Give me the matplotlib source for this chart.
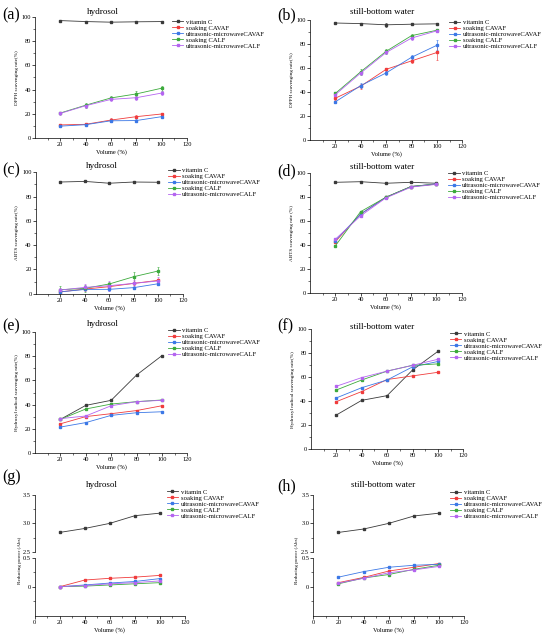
import matplotlib
matplotlib.use("Agg")
import matplotlib.pyplot as plt
from matplotlib.ticker import MultipleLocator, FixedLocator
from matplotlib.lines import Line2D

plt.rcParams['font.family'] = ['Liberation Serif', 'DejaVu Serif']

# ---------------- data ----------------
volume = [20, 40, 60, 80, 100]
series_names = ["vitamin C", "soaking CAVAF", "ultrasonic-microwaveCAVAF",
                "soaking CALF", "ultrasonic-microwaveCALF"]
series_colors = ["#3a3a3a", "#f03c3c", "#3c78e6", "#3caa3c", "#b464f0"]

# order: vitamin C, soaking CAVAF, US-MW CAVAF, soaking CALF, US-MW CALF
dpph_hydrosol = [[96.8, 96.0, 95.5, 95.8, 96.0],
                 [11.0, 11.5, 15.0, 17.8, 20.0],
                 [10.0, 11.2, 14.4, 14.6, 17.8],
                 [20.8, 27.2, 33.2, 36.5, 41.2],
                 [20.5, 26.8, 32.0, 33.4, 37.2]]
dpph_hydrosol_err = [[0.5, 0.5, 0.5, 0.5, 0.5],
                     [0.8, 0.6, 1.5, 1.0, 1.0],
                     [0.8, 0.6, 1.2, 1.0, 1.0],
                     [1.0, 2.0, 1.5, 2.0, 2.0],
                     [1.0, 1.5, 1.5, 1.5, 1.5]]

dpph_still = [[97.5, 97.0, 96.0, 96.5, 96.8],
              [35.0, 45.0, 59.0, 66.0, 73.0],
              [32.0, 45.5, 56.0, 69.0, 79.0],
              [39.0, 57.0, 74.0, 87.0, 91.5],
              [38.0, 56.0, 73.0, 85.0, 91.0]]
dpph_still_err = [[0.5, 0.5, 1.5, 0.5, 0.5],
                  [1.5, 2.0, 1.5, 2.0, 6.0],
                  [1.0, 2.0, 1.5, 1.5, 4.0],
                  [1.5, 2.5, 2.0, 1.5, 1.0],
                  [1.0, 2.0, 1.5, 1.5, 1.0]]

abts_hydrosol = [[92.0, 92.5, 91.0, 92.0, 91.8],
                 [1.5, 3.8, 5.8, 8.5, 11.0],
                 [1.5, 3.5, 3.6, 5.0, 8.2],
                 [3.3, 4.4, 8.0, 14.0, 18.7],
                 [3.0, 5.2, 6.6, 8.5, 10.5]]
abts_hydrosol_err = [[0.5, 0.5, 0.5, 0.5, 0.5],
                     [0.5, 1.0, 1.5, 1.5, 1.0],
                     [0.5, 0.5, 1.0, 1.0, 1.0],
                     [3.0, 3.0, 2.0, 4.0, 3.0],
                     [2.0, 3.0, 4.0, 3.0, 3.0]]

abts_still = [[92.5, 93.0, 91.7, 92.5, 91.7],
              [43.0, 66.0, 80.0, 89.0, 91.0],
              [44.0, 66.0, 80.0, 89.0, 91.2],
              [39.5, 68.0, 80.0, 89.0, 91.0],
              [45.0, 64.5, 79.5, 88.5, 90.8]]
abts_still_err = [[0.5, 0.5, 0.5, 0.5, 0.5],
                  [1.0, 1.0, 1.0, 0.8, 0.8],
                  [1.0, 1.0, 1.0, 0.8, 0.8],
                  [1.0, 1.0, 1.0, 0.8, 0.8],
                  [1.0, 1.0, 1.0, 0.8, 0.8]]

oh_hydrosol = [[27.7, 39.3, 43.5, 64.5, 80.6],
               [24.0, 30.0, 32.4, 35.0, 39.0],
               [21.3, 25.0, 31.0, 33.2, 34.0],
               [27.7, 36.3, 40.4, 42.4, 43.8],
               [28.3, 30.5, 39.0, 42.4, 43.5]]
oh_hydrosol_err = [[0.5, 0.5, 0.5, 1.0, 0.5],
                   [0.5, 0.8, 0.8, 0.8, 0.5],
                   [0.5, 0.5, 0.8, 0.5, 0.5],
                   [0.5, 0.5, 0.5, 0.5, 0.5],
                   [0.5, 0.8, 0.5, 0.5, 0.5]]

oh_still = [[28.5, 40.7, 44.6, 65.9, 81.4],
            [39.6, 48.0, 58.0, 61.0, 64.0],
            [42.7, 51.2, 57.6, 68.5, 73.0],
            [49.3, 57.6, 65.0, 69.8, 71.0],
            [52.4, 59.6, 65.0, 69.8, 74.8]]
oh_still_err = [[0.5, 0.5, 0.5, 1.0, 0.5],
                [0.5, 0.5, 0.8, 0.5, 0.5],
                [0.5, 0.5, 0.5, 0.5, 0.5],
                [0.5, 0.8, 0.5, 0.5, 0.5],
                [0.5, 0.8, 0.5, 0.5, 0.8]]

rp_hydrosol = [[2.84, 2.91, 3.00, 3.135, 3.18],
               [0.00, 0.115, 0.145, 0.165, 0.195],
               [0.00, 0.03, 0.063, 0.09, 0.14],
               [0.00, 0.01, 0.03, 0.05, 0.07],
               [0.00, 0.02, 0.05, 0.07, 0.10]]
rp_hydrosol_err = [[0.01] * 5, [0.01] * 5, [0.01] * 5, [0.01] * 5, [0.01] * 5]

rp_still = [[2.84, 2.90, 3.00, 3.13, 3.18],
            [0.07, 0.16, 0.27, 0.335, 0.40],
            [0.165, 0.26, 0.335, 0.37, 0.385],
            [0.05, 0.15, 0.21, 0.30, 0.37],
            [0.06, 0.145, 0.24, 0.29, 0.35]]
rp_still_err = [[0.01] * 5, [0.01] * 5, [0.01] * 5, [0.01] * 5, [0.01] * 5]

# ---------------- layout ----------------
W, H = 550, 636
fig = plt.figure(figsize=(W / 100, H / 100), dpi=100)

def px_axes(l, t, r, b):
    return fig.add_axes([l / W, 1 - b / H, (r - l) / W, (b - t) / H])

def style(ax, show_x=True):
    ax.spines['top'].set_visible(False)
    ax.spines['right'].set_visible(False)
    for s in ('left', 'bottom'):
        ax.spines[s].set_linewidth(0.5)
    ax.tick_params(which='major', direction='out', length=2.0, width=0.5,
                   labelsize=4.6, pad=1.0)
    ax.tick_params(which='minor', direction='out', length=1.2, width=0.4)
    if not show_x:
        ax.spines['bottom'].set_visible(False)
        ax.tick_params(axis='x', which='both', bottom=False, labelbottom=False)

def draw_series(ax, data, err):
    for vals, e, c, name in zip(data, err, series_colors, series_names):
        ax.errorbar(volume, vals, yerr=e, color=c, lw=0.6, marker='s',
                    ms=1.5, elinewidth=0.45, capsize=0.8, capthick=0.4,
                    label=name)
    return [Line2D([], [], color=c, lw=0.6, marker='s', ms=1.5)
            for c in series_colors]

def legend(ax, handles, lx, ly):
    ax.legend(handles, series_names, loc='upper left',
              bbox_to_anchor=(lx / W, 1 - ly / H), bbox_transform=fig.transFigure,
              frameon=False, fontsize=4.8, handlelength=1.7, handletextpad=0.4,
              labelspacing=0.05, borderpad=0, borderaxespad=0)

def xaxis_setup(ax, label_zero=False):
    ax.set_xlim(0, 120)
    if label_zero:
        ax.set_xticks([0, 20, 40, 60, 80, 100, 120])
    else:
        ax.set_xticks([20, 40, 60, 80, 100, 120])
    ax.xaxis.set_minor_locator(FixedLocator([10, 30, 50, 70, 90, 110]))
    ax.set_xlabel("Volume (%)", fontsize=4.6, labelpad=1.5)

def percent_panel(box, data, err, ylabel, title, tpos, letter, lpos, legpos):
    l, t, r, b = box
    ax = px_axes(l, t, r, b)
    style(ax)
    hs = draw_series(ax, data, err)
    ax.set_ylim(0, 100)
    ax.set_yticks([0, 20, 40, 60, 80, 100])
    ax.yaxis.set_minor_locator(MultipleLocator(10))
    xaxis_setup(ax)
    ax.set_ylabel(ylabel, fontsize=3.7, labelpad=2.0)
    fig.text(tpos[0] / W, 1 - tpos[1] / H, title, fontsize=6.5,
             ha='center', va='center')
    fig.text(lpos[0] / W, 1 - lpos[1] / H, letter, fontsize=11.5,
             ha='left', va='center')
    legend(ax, hs, *legpos)
    return ax

percent_panel((35, 16.7, 187, 138.3), dpph_hydrosol, dpph_hydrosol_err,
              "DPPH scavenging rate(%)", "hydrosol", (103, 12.3), "(a)", (2, 15),
              (172, 19))
percent_panel((310, 20, 462.3, 140.3), dpph_still, dpph_still_err,
              "DPPH scavenging rate(%)", "still-bottom water", (381.7, 12.3), "(b)",
              (277, 15), (449, 19.3))
percent_panel((35.8, 172.3, 182.7, 293.7), abts_hydrosol, abts_hydrosol_err,
              "ABTS scavenging rate(%)", "hydrosol", (101.7, 166), "(c)", (2, 170),
              (168.3, 167.6))
percent_panel((310, 173.3, 461.7, 293.3), abts_still, abts_still_err,
              "ABTS scavenging rate (%)", "still-bottom water", (381.7, 166.7), "(d)",
              (277, 171), (448.3, 170.6))
percent_panel((35, 332.3, 187.3, 452.7), oh_hydrosol, oh_hydrosol_err,
              "Hydroxyl radical scavenging rate(%)", "hydrosol", (103, 324.3), "(e)",
              (2, 326), (168.3, 327.3))
percent_panel((310.9, 329, 463.3, 449.3), oh_still, oh_still_err,
              "Hydroxyl radical scavenging rate(%)", "still-bottom water", (381.7, 326.7),
              "(f)", (277, 326.7), (450, 331))

def rp_panel(l, r, data, err, title, tpos, letter, lpos, legpos, ylab_x):
    up = px_axes(l, 495, r, 551.7)
    lo = px_axes(l, 557.7, r, 615.7)
    style(up, show_x=False)
    style(lo)
    draw_series(up, data, err)
    hs = draw_series(lo, data, err)
    up.set_xlim(0, 120)
    up.set_ylim(2.5, 3.5)
    up.set_yticks([2.5, 3.0, 3.5])
    up.set_yticklabels(["2.5", "3.0", "3.5"])
    up.yaxis.set_minor_locator(MultipleLocator(0.25))
    lo.set_ylim(-0.5, 0.5)
    lo.set_yticks([0, 0.5])
    lo.set_yticklabels(["0", "0.5"])
    lo.yaxis.set_minor_locator(FixedLocator([-0.25, 0.25]))
    xaxis_setup(lo, label_zero=True)
    fig.text(ylab_x / W, 1 - 560 / H, "Reducing power (Abs)", fontsize=3.7,
             rotation=90, ha='center', va='center')
    fig.text(tpos[0] / W, 1 - tpos[1] / H, title, fontsize=6.5,
             ha='center', va='center')
    fig.text(lpos[0] / W, 1 - lpos[1] / H, letter, fontsize=11.5,
             ha='left', va='center')
    legend(up, hs, *legpos)

rp_panel(34.7, 185, rp_hydrosol, rp_hydrosol_err, "hydrosol", (101.7, 485), "(g)",
         (2, 476.7), (166.7, 489), 20)
rp_panel(313.3, 464.3, rp_still, rp_still_err, "still-bottom water", (383, 485), "(h)",
         (277, 486.7), (450, 489.7), 297)

fig.savefig("out.png", dpi=100)
